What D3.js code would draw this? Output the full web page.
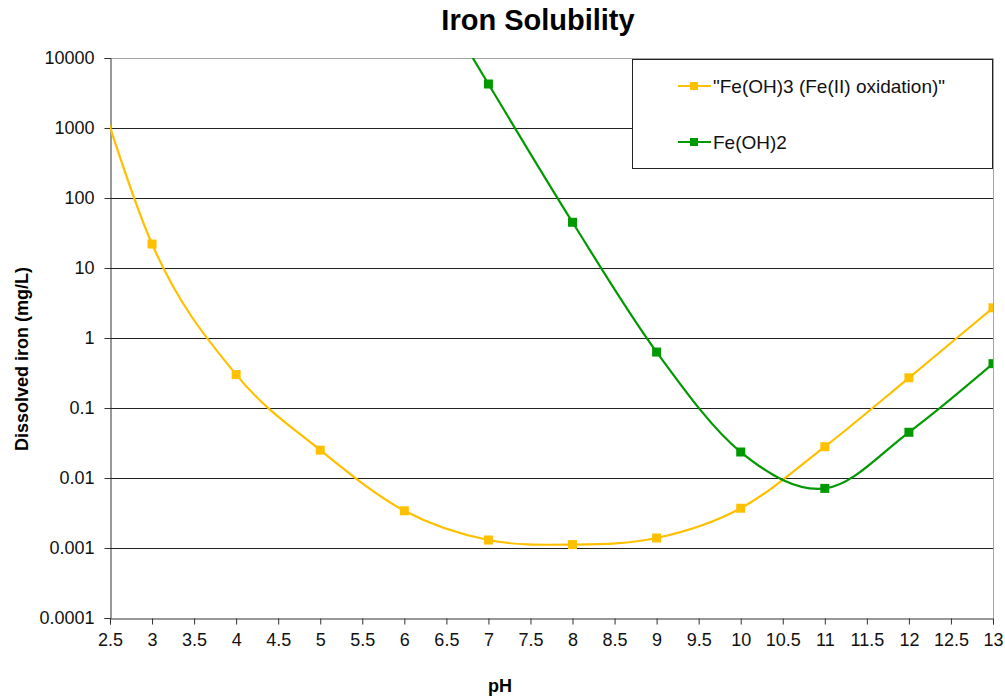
<!DOCTYPE html>
<html>
<head>
<meta charset="utf-8">
<script src="https://cdn.jsdelivr.net/npm/d3@7"></script>
<style>
  body { margin: 0; background: #fff; }
  text { font-family: "Liberation Sans", Arial, sans-serif; }
</style>
</head>
<body>
<script>
// pH values for each series
const phFe3 = [2, 3, 4, 5, 6, 7, 8, 9, 10, 11, 12, 13];
const valFe3 = [85000, 22, 0.30, 0.025, 0.0034, 0.0013, 0.00112, 0.00139, 0.0037, 0.028, 0.27, 2.7];
const phFe2 = [6, 7, 8, 9, 10, 11, 12, 13];
const valFe2 = [430000, 4250, 45, 0.63, 0.0235, 0.0071, 0.045, 0.43];
const xTicks = d3.range(2.5, 13.01, 0.5);
const yTicks = [0.0001, 0.001, 0.01, 0.1, 1, 10, 100, 1000, 10000];
const seriesNames = ['"Fe(OH)3 (Fe(II) oxidation)"', 'Fe(OH)2'];
const seriesColors = ['#FFC000', '#009A00'];

let appendSVG = (width, height) => {
    return d3.select('body')
        .append('svg')
        .attr('width', width)
        .attr('height', height)
}

let main = () => {
    const svg = appendSVG(1005, 699);
    const left = 110, right = 993, top = 58, bottom = 618;

    const x = d3.scaleLinear().domain([2.5, 13]).range([left, right]);
    const y = d3.scaleLog().domain([0.0001, 10000]).range([bottom, top]);

    svg.append('defs').append('clipPath').attr('id', 'plot')
        .append('rect')
        .attr('x', left).attr('y', top)
        .attr('width', right - left).attr('height', bottom - top);

    // gridlines
    svg.append('g')
        .selectAll('line')
        .data(yTicks.slice(1, -1))
        .enter()
        .append('line')
        .attr('x1', left).attr('x2', right)
        .attr('y1', d => Math.round(y(d)) + 0.5)
        .attr('y2', d => Math.round(y(d)) + 0.5)
        .attr('stroke', '#222')
        .attr('stroke-width', 1);

    // plot border (top and right)
    svg.append('path')
        .attr('d', `M${left},${top + 0.5}H${right + 0.5}V${bottom}`)
        .attr('fill', 'none')
        .attr('stroke', '#a6a6a6');

    // axes
    const yAxis = d3.axisLeft(y)
        .tickValues(yTicks)
        .tickFormat(d => String(+d.toPrecision(1)))
        .tickSize(6)
        .tickPadding(10);
    svg.append('g')
        .attr('transform', `translate(${left + 0.5},0)`)
        .call(yAxis)
        .call(g => g.selectAll('text').style('font-size', '18px').attr('fill', '#111'))
        .call(g => g.selectAll('line, path').attr('stroke', '#333'));

    const xAxis = d3.axisBottom(x)
        .tickValues(xTicks)
        .tickFormat(d => d % 1 === 0 ? d3.format('d')(d) : d3.format('.1f')(d))
        .tickSize(6)
        .tickPadding(9);
    svg.append('g')
        .attr('transform', `translate(0,${bottom + 0.5})`)
        .call(xAxis)
        .call(g => g.selectAll('text').style('font-size', '18px').attr('fill', '#111'))
        .call(g => g.selectAll('line, path').attr('stroke', '#333'));

    // series
    const series = [
        { ph: phFe3, val: valFe3 },
        { ph: phFe2, val: valFe2 }
    ];
    const line = d3.line()
        .x(d => x(d[0]))
        .y(d => y(d[1]))
        .curve(d3.curveCardinal.tension(0));

    const plot = svg.append('g').attr('clip-path', 'url(#plot)');
    series.forEach((s, i) => {
        const pts = s.ph.map((p, j) => [p, s.val[j]]);
        plot.append('path')
            .datum(pts)
            .attr('d', line)
            .attr('fill', 'none')
            .attr('stroke', seriesColors[i])
            .attr('stroke-width', 2.2);
        plot.selectAll('rect.m' + i)
            .data(pts)
            .enter()
            .append('rect')
            .attr('class', 'm' + i)
            .attr('x', d => x(d[0]) - 4.5)
            .attr('y', d => y(d[1]) - 4.5)
            .attr('width', 9)
            .attr('height', 9)
            .attr('fill', seriesColors[i]);
    });

    // legend
    const lg = svg.append('g');
    lg.append('rect')
        .attr('x', 632.5).attr('y', 59.5)
        .attr('width', 360).attr('height', 109)
        .attr('fill', '#fff')
        .attr('stroke', '#222');
    seriesNames.forEach((name, i) => {
        const ly = 86 + i * 56;
        lg.append('line')
            .attr('x1', 678).attr('x2', 711)
            .attr('y1', ly).attr('y2', ly)
            .attr('stroke', seriesColors[i])
            .attr('stroke-width', 2.2);
        lg.append('rect')
            .attr('x', 690).attr('y', ly - 4)
            .attr('width', 8).attr('height', 8)
            .attr('fill', seriesColors[i]);
        lg.append('text')
            .attr('x', 713).attr('y', ly + 7)
            .style('font-size', '19px')
            .attr('fill', '#111')
            .text(name);
    });

    // titles
    svg.append('text')
        .attr('x', 538).attr('y', 30)
        .attr('text-anchor', 'middle')
        .style('font-size', '29px')
        .style('font-weight', 'bold')
        .text('Iron Solubility');
    svg.append('text')
        .attr('x', 500).attr('y', 692)
        .attr('text-anchor', 'middle')
        .style('font-size', '18px')
        .style('font-weight', 'bold')
        .text('pH');
    svg.append('text')
        .attr('transform', 'translate(28,359) rotate(-90)')
        .attr('text-anchor', 'middle')
        .style('font-size', '18px')
        .style('font-weight', 'bold')
        .text('Dissolved iron (mg/L)');
}

main()
</script>
</body>
</html>
